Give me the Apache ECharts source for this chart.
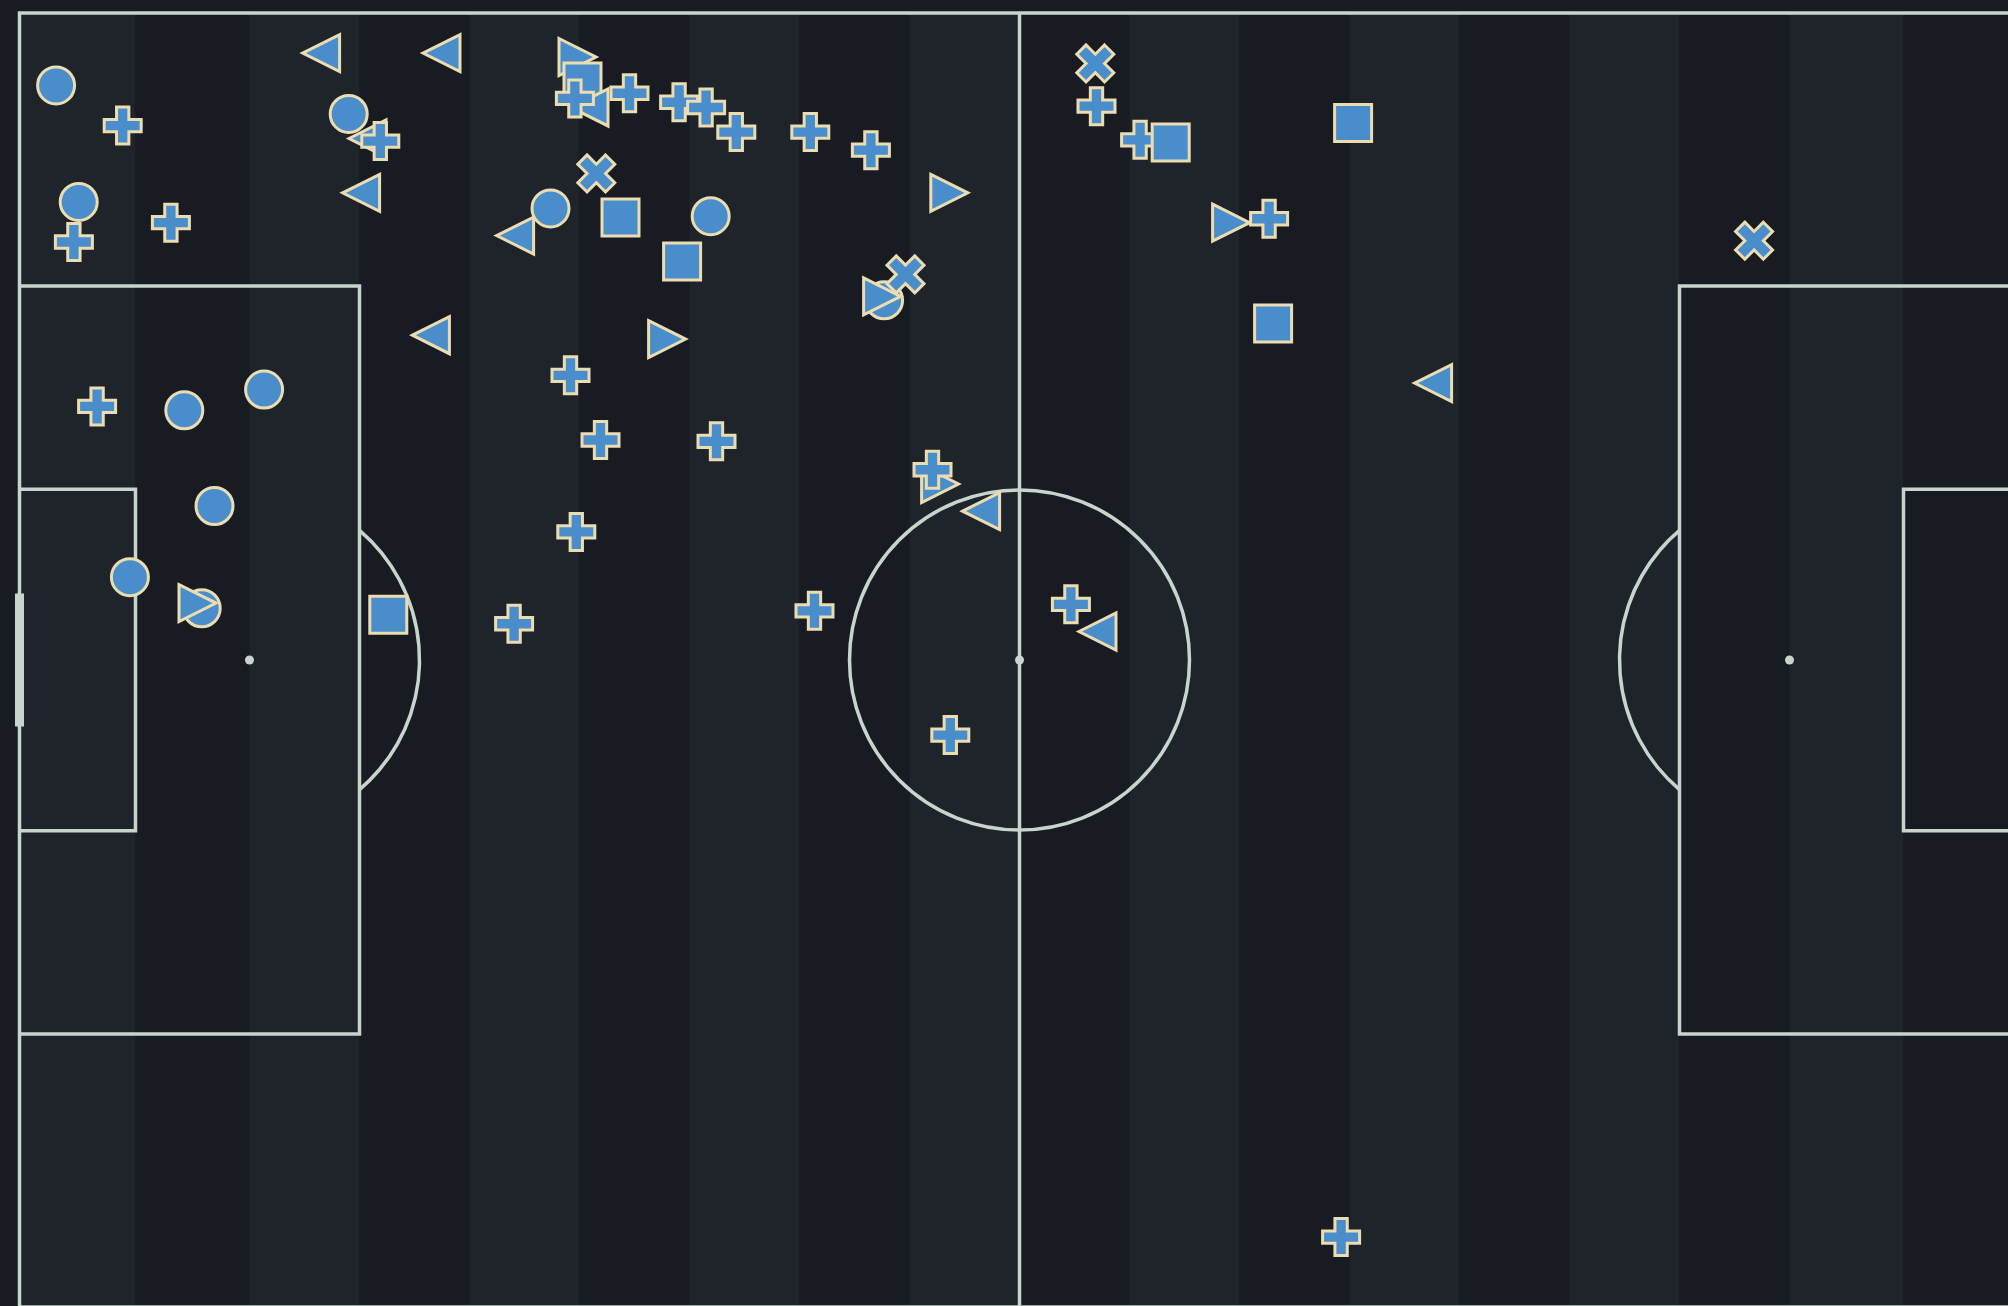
<!DOCTYPE html>
<html>
<head>
<meta charset="utf-8">
<title>Pitch events</title>
<script src="https://cdn.jsdelivr.net/npm/echarts@6/dist/echarts.min.js"></script>
<style>
body {
  margin: 0;
  background: #181b21;
}
#chart {
  width: 2008px;
  height: 1306px;
}
</style>
</head>
<body>
<div id="chart"></div>
<script>
// opta style pitch: x 0-100 left to right, y 0-100 bottom to top
const stripeEdges = [0, 5.8, 11.5, 17, 22.5, 28, 33.5, 39, 44.5, 50, 55.5, 61, 66.5, 72, 77.5, 83, 88.5, 94.2, 100]

const pitchLines = [
  [[0, 0], [100, 0], [100, 100], [0, 100], [0, 0]],
  [[50, 0], [50, 100]],
  [[0, 21.1], [17, 21.1], [17, 78.9], [0, 78.9]],
  [[0, 36.8], [5.8, 36.8], [5.8, 63.2], [0, 63.2]],
  [[100, 21.1], [83, 21.1], [83, 78.9], [100, 78.9]],
  [[100, 36.8], [94.2, 36.8], [94.2, 63.2], [100, 63.2]]
]
const spots = [[11.5, 50], [50, 50], [88.5, 50]]
const goalLeft = [[0, 45.2], [0, 54.8]]
const circleRadius = 8.5 // in x units

const eventX = [
  1.83, 5.16, 2.96, 2.72, 7.57, 15.08, 21.1, 27.9, 28.15, 28.5, 27.77, 30.5,
  16.46, 17.4, 18.04, 17.08, 28.84, 24.78, 26.55, 30.05, 33.13, 20.57, 32.38,
  27.55, 29.05, 3.88, 8.24, 12.23, 32.98, 34.33, 35.84, 39.54, 42.57, 46.49,
  34.56, 43.23, 43.13, 44.3, 34.85, 53.79, 53.85, 56.03, 57.56, 60.58, 62.48,
  62.68, 66.68, 86.73, 70.68, 9.75, 5.52, 9.11, 8.9, 18.44, 27.84, 24.73,
  46.03, 45.65, 48.08, 39.75, 52.57, 53.9, 46.54, 66.08
]
const eventY = [
  94.4, 91.3, 85.4, 82.3, 83.8, 96.9, 96.9, 96.6, 94.7, 92.7, 93.4, 93.8,
  92.2, 90.3, 90.1, 86.1, 87.6, 82.8, 84.9, 84.2, 80.8, 75.1, 74.8,
  72.0, 67.0, 69.6, 69.3, 70.9, 93.1, 92.7, 90.8, 90.8, 89.4, 86.1,
  84.3, 77.8, 78.1, 79.8, 66.9, 96.1, 92.8, 90.2, 90.0, 83.8, 84.1,
  76.0, 91.5, 82.4, 71.4, 61.9, 56.4, 54.0, 54.4, 53.5, 59.9, 52.8,
  63.6, 64.7, 61.5, 53.8, 54.3, 52.2, 44.2, 5.4
]
const eventShape = [
  'circle', 'plus', 'circle', 'plus', 'plus', 'triLeft', 'triLeft', 'triRight', 'square', 'triLeft', 'plus', 'plus',
  'circle', 'triLeft', 'plus', 'triLeft', 'cross', 'triLeft', 'circle', 'square', 'square', 'triLeft', 'triRight',
  'plus', 'plus', 'plus', 'circle', 'circle', 'plus', 'plus', 'plus', 'plus', 'plus', 'triRight',
  'circle', 'circle', 'triRight', 'cross', 'plus', 'cross', 'plus', 'plus', 'square', 'triRight', 'plus',
  'square', 'square', 'cross', 'triLeft', 'circle', 'circle', 'circle', 'triRight', 'square', 'plus', 'plus',
  'triRight', 'plus', 'triLeft', 'plus', 'plus', 'triLeft', 'plus', 'plus'
]

const lineColor = '#c7d5cc'
const stripeColors = ['#1e242a', '#181b21']

// filled plus, and the same rotated 45 degrees for the cross
const plusPts = [[2, 0], [4, 0], [4, 2], [6, 2], [6, 4], [4, 4], [4, 6], [2, 6], [2, 4], [0, 4], [0, 2], [2, 2]]
function toPath(pts) {
  return 'path://' + pts.map((p, i) => (i ? 'L' : 'M') + p[0].toFixed(3) + ',' + p[1].toFixed(3)).join('') + 'Z'
}
const crossPts = plusPts.map(p => {
  const dx = p[0] - 3, dy = p[1] - 3
  return [(dx - dy) * Math.SQRT1_2 + 5, (dx + dy) * Math.SQRT1_2 + 5]
})
const symbols = {
  circle: 'circle',
  square: 'rect',
  triLeft: 'path://M0,1L2,0L2,2Z',
  triRight: 'path://M0,0L2,1L0,2Z',
  plus: toPath(plusPts),
  cross: toPath(crossPts)
}

const chart = echarts.init(document.getElementById('chart'))

const stripeData = stripeEdges.slice(0, -1).map((x0, i) => [x0, stripeEdges[i + 1]])
const eventData = eventX.map((x, i) => ({
  value: [x, eventY[i]],
  symbol: symbols[eventShape[i]]
}))

const option = {
  backgroundColor: '#181b21',
  animation: false,
  grid: {
    left: 19.5,
    top: 13,
    width: 2000,
    height: 1294,
    outerBoundsMode: 'none'
  },
  xAxis: { type: 'value', min: 0, max: 100, show: false },
  yAxis: { type: 'value', min: 0, max: 100, show: false },
  series: [
    {
      type: 'custom',
      z: 0,
      silent: true,
      data: stripeData,
      renderItem: function (params, api) {
        const d = stripeData[params.dataIndex]
        const p0 = api.coord([d[0], 100])
        const p1 = api.coord([d[1], 0])
        return {
          type: 'rect',
          shape: { x: p0[0], y: p0[1], width: p1[0] - p0[0], height: p1[1] - p0[1] },
          style: { fill: stripeColors[params.dataIndex % 2] }
        }
      }
    },
    {
      type: 'custom',
      z: 1,
      silent: true,
      data: [[50, 50]],
      renderItem: function (params, api) {
        const style = { stroke: lineColor, lineWidth: 3.5, fill: 'none' }
        const children = pitchLines.map(line => ({
          type: 'polyline',
          shape: { points: line.map(p => api.coord(p)) },
          style: style
        }))
        const r = api.size([circleRadius, 0])[0]
        const c = api.coord([50, 50])
        children.push({ type: 'circle', shape: { cx: c[0], cy: c[1], r: r }, style: style })
        // penalty arcs outside the box
        const theta = Math.acos(api.size([5.5, 0])[0] / r)
        const pl = api.coord(spots[0])
        const pr = api.coord(spots[2])
        children.push({
          type: 'arc',
          shape: { cx: pl[0], cy: pl[1], r: r, startAngle: -theta, endAngle: theta, clockwise: true },
          style: style
        })
        children.push({
          type: 'arc',
          shape: { cx: pr[0], cy: pr[1], r: r, startAngle: Math.PI - theta, endAngle: Math.PI + theta, clockwise: true },
          style: style
        })
        spots.forEach(s => {
          const p = api.coord(s)
          children.push({ type: 'circle', shape: { cx: p[0], cy: p[1], r: 4.5 }, style: { fill: lineColor } })
        })
        const g0 = api.coord(goalLeft[0])
        const g1 = api.coord(goalLeft[1])
        children.push({
          type: 'line',
          shape: { x1: g0[0], y1: g0[1], x2: g1[0], y2: g1[1] },
          style: { stroke: lineColor, lineWidth: 9, lineCap: 'square' }
        })
        return { type: 'group', children: children }
      }
    },
    {
      type: 'scatter',
      z: 2,
      symbolSize: 37,
      itemStyle: {
        color: '#4a8dcb',
        borderColor: '#ebdcb2',
        borderWidth: 3,
        opacity: 1
      },
      emphasis: { disabled: true },
      data: eventData
    }
  ]
}

chart.setOption(option)
</script>
</body>
</html>
